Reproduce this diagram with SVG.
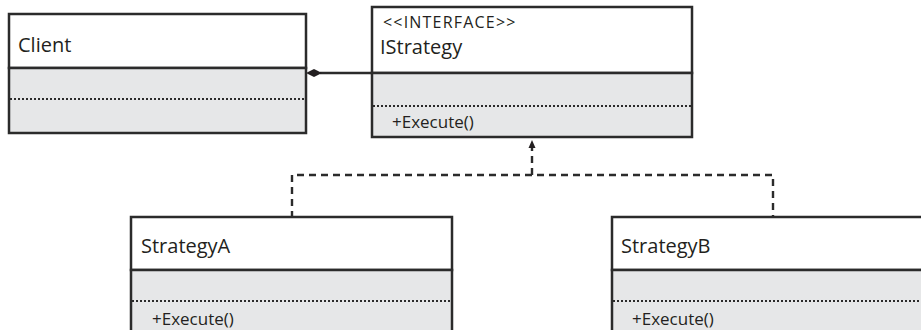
<svg xmlns="http://www.w3.org/2000/svg" width="921" height="330" viewBox="0 0 921 330">
<style>
.box{fill:#ffffff;stroke:#2b2b2b;stroke-width:2.5}
.comp{fill:#e6e7e8;stroke:#2b2b2b;stroke-width:2.5}
.dot{stroke:#2b2b2b;stroke-width:2;stroke-dasharray:2,2;fill:none}
.t{font-family:"Open Sans","Noto Sans",sans-serif;font-size:20px;fill:#231f20}
.s{font-family:"Open Sans","Noto Sans",sans-serif;font-size:16px;letter-spacing:1.2px;fill:#231f20}
.m{font-family:"Open Sans","Noto Sans",sans-serif;font-size:17px;fill:#231f20}
.dash{stroke:#2b2b2b;stroke-width:2.4;stroke-dasharray:7,5;fill:none}
.solid{stroke:#2b2b2b;stroke-width:2.5;fill:none}
</style>
<g id="connectors">
<path class="solid" d="M320,73 H372"/>
<polygon points="306,73 314,69 322,73 314,77" fill="#231f20"/>
<path class="dash" d="M292,218 V175 H773 V218"/>
<path class="dash" d="M532,175 V146"/>
<polygon points="532,140 528.5,148 535.5,148" fill="#231f20"/>
</g>
<g id="client">
<rect class="box" x="9" y="14" width="297" height="54"/>
<rect class="comp" x="9" y="68" width="297" height="65"/>
<line class="dot" x1="10" y1="99" x2="305" y2="99"/>
<text class="t" x="18" y="52">Client</text>
</g>
<g id="istrategy">
<rect class="box" x="372" y="7" width="320" height="66"/>
<rect class="comp" x="372" y="73" width="320" height="64"/>
<line class="dot" x1="373" y1="106" x2="691" y2="106"/>
<text class="s" x="383" y="28">&lt;&lt;INTERFACE&gt;&gt;</text>
<text class="t" x="380" y="54">IStrategy</text>
<text class="m" x="392" y="128">+Execute()</text>
</g>
<g id="strategyA">
<rect class="box" x="131" y="217" width="321" height="53"/>
<rect class="comp" x="131" y="270" width="321" height="80"/>
<line class="dot" x1="132" y1="301" x2="451" y2="301"/>
<text class="t" x="141" y="253">StrategyA</text>
<text class="m" x="152" y="325">+Execute()</text>
</g>
<g id="strategyB">
<rect class="box" x="612" y="217" width="330" height="53"/>
<rect class="comp" x="612" y="270" width="330" height="80"/>
<line class="dot" x1="613" y1="301" x2="921" y2="301"/>
<text class="t" x="621" y="253">StrategyB</text>
<text class="m" x="632" y="325">+Execute()</text>
</g>
</svg>
